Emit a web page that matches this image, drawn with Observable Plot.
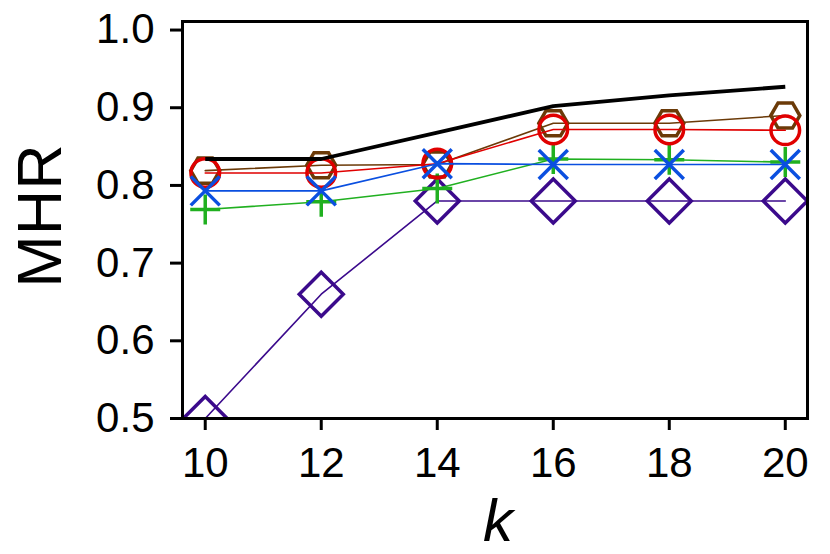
<!DOCTYPE html>
<html>
<head>
<meta charset="utf-8">
<script src="https://cdn.jsdelivr.net/npm/d3@7"></script>
<script src="https://cdn.jsdelivr.net/npm/@observablehq/plot@0.6"></script>
<style>
  html, body { margin: 0; padding: 0; background: #fff; }
  #chart svg { display: block; }
</style>
</head>
<body>
<div id="chart"></div>
<script>
// ---- data ----
const ks = [10, 12, 14, 16, 18, 20];
const yTicks = [0.5, 0.6, 0.7, 0.8, 0.9, 1.0];
const seriesBlack  = [0.834, 0.834, 0.868, 0.902, 0.916, 0.927];
const seriesBrown  = [0.819, 0.826, 0.827, 0.880, 0.880, 0.890];
const seriesRed    = [0.816, 0.816, 0.828, 0.872, 0.872, 0.871];
const seriesBlue   = [0.793, 0.793, 0.828, 0.827, 0.827, 0.827];
const seriesGreen  = [0.769, 0.779, 0.796, 0.834, 0.833, 0.830];
const seriesPurple = [0.500, 0.660, 0.780, 0.780, 0.780, 0.780];

const toRows = (vals) => ks.map((k, i) => ({k, v: vals[i]}));

// ---- custom open symbols ----
const rad = (size) => Math.sqrt(size / Math.PI);
const hexFlat = {draw(ctx, size) {
  const r = rad(size);
  for (let i = 0; i < 6; ++i) {
    const a = i * Math.PI / 3;
    const x = r * Math.cos(a), y = r * Math.sin(a);
    if (i === 0) ctx.moveTo(x, y); else ctx.lineTo(x, y);
  }
  ctx.closePath();
}};
const circ = {draw(ctx, size) {
  const r = rad(size);
  ctx.moveTo(r, 0);
  ctx.arc(0, 0, r, 0, 2 * Math.PI);
}};
const times = {draw(ctx, size) {
  const r = rad(size);
  ctx.moveTo(-r, -r); ctx.lineTo(r, r);
  ctx.moveTo(-r, r); ctx.lineTo(r, -r);
}};
const plus = {draw(ctx, size) {
  const r = rad(size);
  ctx.moveTo(-r, 0); ctx.lineTo(r, 0);
  ctx.moveTo(0, -r); ctx.lineTo(0, r);
}};
const diamond = {draw(ctx, size) {
  const r = rad(size);
  ctx.moveTo(0, -r); ctx.lineTo(r, 0); ctx.lineTo(0, r); ctx.lineTo(-r, 0);
  ctx.closePath();
}};

const series = [
  {vals: seriesPurple, color: "#3b0a8c", symbol: diamond, r: 22},
  {vals: seriesGreen,  color: "#20b020", symbol: plus,    r: 15},
  {vals: seriesBrown,  color: "#6b3a08", symbol: hexFlat, r: 14.5},
  {vals: seriesRed,    color: "#e00000", symbol: circ,    r: 14.3},
  {vals: seriesBlue,   color: "#0a4fe0", symbol: times,   r: 14.5},
];

const marks = [];
for (const s of series) {
  const rows = toRows(s.vals);
  marks.push(Plot.line(rows, {x: "k", y: "v", stroke: s.color, strokeWidth: 1.6, clip: "frame"}));
  marks.push(Plot.dot(rows, {x: "k", y: "v", stroke: s.color, fill: "none", strokeWidth: 3.5,
    symbol: s.symbol, r: s.r, clip: "frame", strokeLinejoin: "miter", strokeLinecap: "butt"}));
}
marks.push(Plot.line(toRows(seriesBlack), {x: "k", y: "v", stroke: "#000", strokeWidth: 3.8, strokeLinecap: "butt"}));

const chart = Plot.plot({
  width: 830,
  height: 554,
  marginLeft: 182,
  marginRight: 23,
  marginTop: 21,
  marginBottom: 136,
  style: {fontFamily: "'Liberation Sans', Arial, sans-serif", background: "#fff", color: "#000"},
  x: {domain: [9.608, 20.383]},
  y: {domain: [0.5, 1.011]},
  marks: [
    ...marks,
    Plot.frame({stroke: "#000", strokeWidth: 3}),
    Plot.axisX({ticks: ks, tickSize: 12, tickPadding: 17, fontSize: 42, strokeWidth: 3, label: null, tickFormat: d3.format("d")}),
    Plot.axisY({ticks: yTicks, tickSize: 12, tickPadding: 16, fontSize: 42, strokeWidth: 3, label: null, tickFormat: d3.format(".1f")}),
    Plot.text(["MHR"], {frameAnchor: "left", textAnchor: "middle", dx: -142, dy: -4, rotate: -90, fontSize: 63, fill: "#000"}),
    Plot.text(["k"], {frameAnchor: "bottom", textAnchor: "middle", dy: 80, dx: 3, lineAnchor: "top", fontSize: 60, fontStyle: "italic", fill: "#000"})
  ]
});
document.getElementById("chart").appendChild(chart);
</script>
</body>
</html>
